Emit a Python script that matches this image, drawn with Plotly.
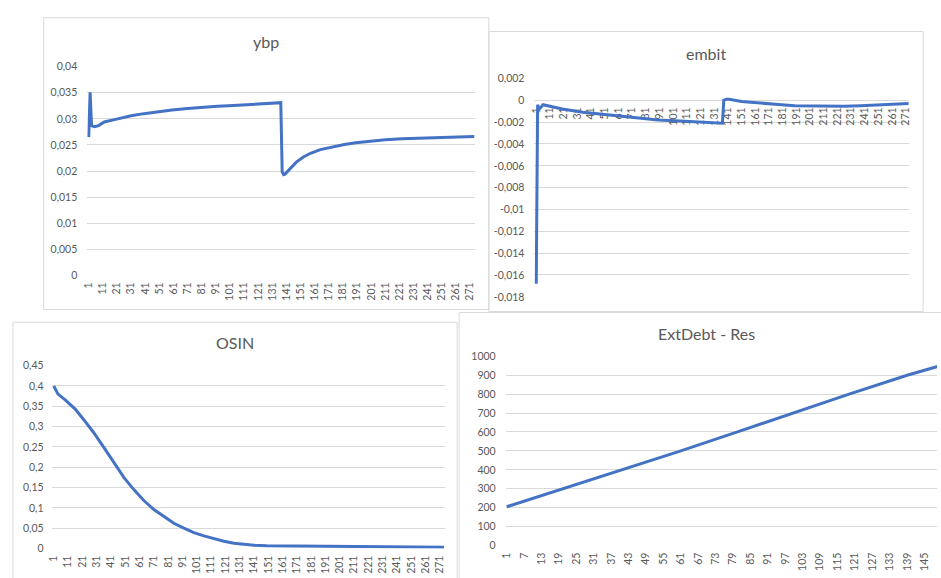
import plotly.graph_objects as go

W, H = 941, 578

# ---- ybp ----
ybp_t = [1, 2, 3, 5, 8, 12, 20, 31, 40, 50, 60, 71, 80, 92, 100, 113, 125, 136, 137,
         138, 139, 140, 143, 148, 153, 158, 165, 174, 182, 190, 200, 211, 223, 235,
         246, 260, 274]
ybp_v = [0.0265, 0.0351, 0.0287, 0.0285, 0.0287, 0.0294, 0.0299, 0.0306, 0.0310,
         0.0314, 0.0317, 0.0320, 0.0322, 0.0324, 0.0325, 0.0327, 0.0329, 0.0331,
         0.0331, 0.0198, 0.0193, 0.0194, 0.0203, 0.0217, 0.0227, 0.0234, 0.0241,
         0.0247, 0.0251, 0.0254, 0.0257, 0.0260, 0.0262, 0.0263, 0.0264, 0.0265,
         0.0266]

# ---- embit ----
embit_t = [1, 2, 3, 4, 6, 10, 20, 35, 50, 70, 90, 106, 120, 137, 138, 140, 142, 151,
           160, 168, 180, 190, 200, 214, 226, 238, 250, 262, 273]
embit_v = [-0.0168, -0.0004, -0.0008, -0.0007, -0.0004, -0.0005, -0.0008, -0.0011,
           -0.0013, -0.0016, -0.0018, -0.0019, -0.0020, -0.0021, 0.0000, 0.0001,
           0.0001, -0.0001, -0.0002, -0.0003, -0.0004, -0.0005, -0.00053, -0.00055,
           -0.00055, -0.0005, -0.00045, -0.0004, -0.0003]

# ---- OSIN ----
osin_t = [1, 4, 9, 16, 22, 29, 36, 43, 50, 57, 64, 71, 78, 85, 92, 99, 106, 113, 120,
          127, 134, 141, 150, 190, 220, 255, 262, 274]
osin_v = [0.400, 0.380, 0.366, 0.343, 0.317, 0.285, 0.249, 0.211, 0.175, 0.145, 0.118,
          0.096, 0.078, 0.062, 0.050, 0.039, 0.031, 0.024, 0.018, 0.013, 0.010, 0.008,
          0.007, 0.006, 0.005, 0.004, 0.003, 0.003]

# ---- ExtDebt - Res ----
debt_t = [1, 21, 41, 61, 80, 99, 119, 139, 150]
debt_v = [205, 302, 401, 500, 598, 698, 800, 900, 948]

# tick labels
long_ticks = list(range(1, 272, 10))
short_ticks = list(range(1, 146, 6))
ybp_yvals = [0, 0.005, 0.01, 0.015, 0.02, 0.025, 0.03, 0.035, 0.04]
ybp_ylabels = ["0", "0,005", "0,01", "0,015", "0,02", "0,025", "0,03", "0,035", "0,04"]
embit_yvals = [-0.018, -0.016, -0.014, -0.012, -0.01, -0.008, -0.006, -0.004, -0.002, 0, 0.002]
embit_ylabels = ["-0,018", "-0,016", "-0,014", "-0,012", "-0,01", "-0,008", "-0,006",
                 "-0,004", "-0,002", "0", "0,002"]
osin_yvals = [0, 0.05, 0.1, 0.15, 0.2, 0.25, 0.3, 0.35, 0.4, 0.45]
osin_ylabels = ["0", "0,05", "0,1", "0,15", "0,2", "0,25", "0,3", "0,35", "0,4", "0,45"]
debt_yvals = [0, 100, 200, 300, 400, 500, 600, 700, 800, 900, 1000]
debt_ylabels = [str(v) for v in debt_yvals]

LINE = "#4472C4"
GRID = "#D9D9D9"
TXT = "#595959"
FONT = "Lato"


def px(x):
    return x / W


def py(y):
    return 1 - y / H


fig = go.Figure()
series = [(ybp_t, ybp_v, "x", "y"), (embit_t, embit_v, "x2", "y2"),
          (osin_t, osin_v, "x3", "y3"), (debt_t, debt_v, "x4", "y4")]
for t, v, xa, ya in series:
    fig.add_trace(go.Scatter(x=t, y=v, xaxis=xa, yaxis=ya, mode="lines",
                             line=dict(color=LINE, width=3), hoverinfo="skip"))

tickfont = dict(family=FONT, size=10.5, color=TXT)


def xaxis(dom, rng, vals, **kw):
    d = dict(domain=[px(dom[0]), px(dom[1])], range=rng, tickmode="array",
             tickvals=vals, ticktext=[str(v) for v in vals], tickangle=-90,
             showgrid=False, zeroline=False, showline=False, ticks="",
             tickfont=tickfont, ticklabelstandoff=4, fixedrange=True)
    d.update(kw)
    return d


def yaxis(dom, rng, vals, labels, standoff, anchor):
    return dict(domain=[py(dom[1]), py(dom[0])], range=rng, tickmode="array",
                tickvals=vals, ticktext=labels, showgrid=True, gridcolor=GRID,
                gridwidth=1, zeroline=False, showline=False, ticks="",
                tickfont=tickfont, ticklabelstandoff=standoff, fixedrange=True,
                anchor=anchor)


# embit horizontal axis crosses at zero
e_top, e_bot = py(74), py(297)
e_zero = e_bot + (0 - (-0.018)) / 0.02 * (e_top - e_bot)

fig.update_layout(
    width=W, height=H, margin=dict(l=0, r=0, t=0, b=0),
    paper_bgcolor="white", plot_bgcolor="white", showlegend=False,
    font=dict(family=FONT, color=TXT),
    xaxis=xaxis((82, 473), [0, 274.5], long_ticks, anchor="y"),
    yaxis=yaxis((62, 275), [0, 0.04], ybp_yvals, ybp_ylabels, 9, "x"),
    xaxis2=xaxis((533, 911), [-0.3, 273.5], long_ticks, anchor="free",
                 position=e_zero, layer="below traces"),
    yaxis2=yaxis((74, 297), [-0.018, 0.002], embit_yvals, embit_ylabels, 9, "x2"),
    xaxis3=xaxis((46, 443), [-0.5, 274.8], long_ticks, anchor="y3"),
    yaxis3=yaxis((367.3, 554), [0, 0.45], osin_yvals, osin_ylabels, 7, "x3"),
    xaxis4=xaxis((504, 939), [0.66, 149.3], short_ticks, anchor="y4"),
    yaxis4=yaxis((357.7, 551), [0, 1000], debt_yvals, debt_ylabels, 9, "x4"),
)

# chart frames
frames = [(38, 12, 487, 310), (487, 26, 925, 312), (7, 323, 455, 600), (457, 313, 960, 600)]
for x0, y0, x1, y1 in frames:
    fig.add_shape(type="rect", xref="paper", yref="paper", x0=px(x0), x1=px(x1),
                  y0=py(y1), y1=py(y0), line=dict(color=GRID, width=1),
                  fillcolor="rgba(0,0,0,0)", layer="below")

# chart titles
titles = [("ybp", 262, 36), ("embit", 706, 48), ("OSIN", 231, 344), ("ExtDebt - Res", 707, 334)]
for text, cx, cy in titles:
    fig.add_annotation(text=text, xref="paper", yref="paper", x=px(cx), y=py(cy),
                       xanchor="center", yanchor="middle", showarrow=False,
                       font=dict(family=FONT, size=16, color=TXT))

fig.write_html("out.html")
